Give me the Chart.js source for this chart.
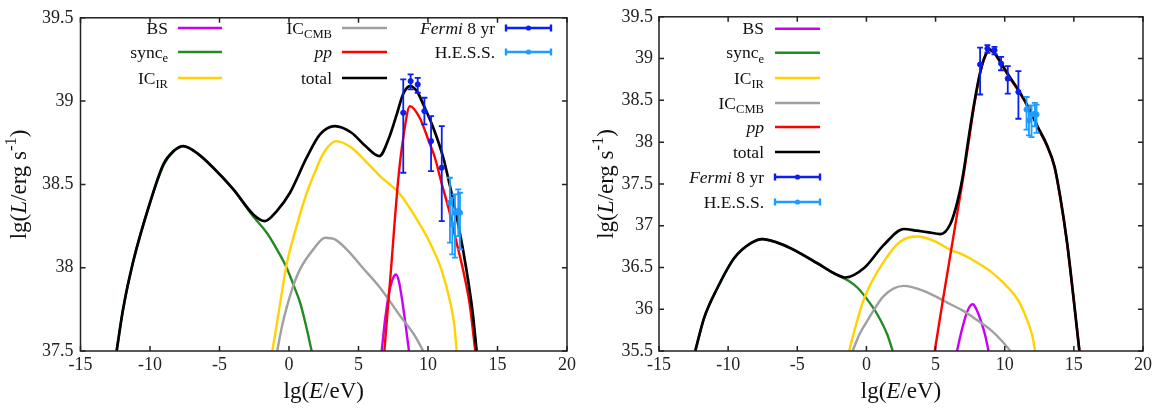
<!DOCTYPE html>
<html>
<head>
<meta charset="utf-8">
<script src="https://cdn.jsdelivr.net/npm/chart.js@4/dist/chart.umd.min.js"></script>
<style>
  body { margin: 0; background: #fff; }
  #wrap { position: relative; width: 1166px; height: 409px; }
  canvas { position: absolute; top: 0; }
</style>
</head>
<body>
<div id="wrap">
  <canvas id="left" width="583" height="409" style="left:0"></canvas>
  <canvas id="right" width="583" height="409" style="left:583px"></canvas>
</div>
<script>
// ---- data: lg(E/eV) and lg(L/erg s^-1) ----

// left panel
const leftBsE = [6.67, 6.9, 7.2, 7.5, 7.7, 7.9, 8.15, 8.4, 8.63];
const leftBsL = [37.5, 37.68, 37.85, 37.94, 37.96, 37.92, 37.8, 37.65, 37.5];
const leftSyncE = [-12.4, -12.0, -11.2, -10.0, -9.0, -8.3, -7.6, -6.5, -5.45, -4.0, -2.6, -1.6, -0.8, -0.17, 0.4, 0.8, 1.2, 1.63];
const leftSyncL = [37.5, 37.72, 38.04, 38.39, 38.62, 38.7, 38.73, 38.68, 38.6, 38.47, 38.31, 38.21, 38.1, 38.0, 37.88, 37.79, 37.66, 37.5];
const leftIrE = [-1.2, -0.9, -0.65, -0.17, 0.55, 1.2, 1.75, 2.5, 3.4, 4.5, 5.5, 6.55, 8.0, 9.2, 10.14, 11.0, 11.58, 11.9, 12.06];
const leftIrL = [37.5, 37.65, 37.78, 38.02, 38.25, 38.43, 38.55, 38.69, 38.76, 38.72, 38.64, 38.55, 38.44, 38.29, 38.15, 37.98, 37.8, 37.65, 37.5];
const leftCmbE = [-0.85, -0.5, -0.17, 0.3, 0.79, 1.75, 2.6, 3.3, 4.15, 5.3, 6.55, 8.0, 9.06, 9.66];
const leftCmbL = [37.5, 37.65, 37.76, 37.89, 37.99, 38.11, 38.18, 38.17, 38.11, 38.0, 37.88, 37.71, 37.59, 37.5];
const leftPpE = [6.86, 7.3, 7.86, 8.22, 8.7, 9.4, 10.1, 10.5, 11.0, 11.5, 12.0, 12.54, 13.0, 13.4];
const leftPpL = [37.5, 37.95, 38.53, 38.78, 38.97, 38.9, 38.75, 38.66, 38.5, 38.35, 38.17, 37.98, 37.78, 37.5];
const leftTotalE = [-12.4, -11.92, -11.2, -10.0, -9.04, -8.3, -7.6, -6.5, -5.45, -4.0, -2.57, -1.73, -0.88, 0.07, 1.27, 2.23, 3.3, 4.5, 5.5, 6.5, 7.2, 7.75, 8.2, 8.7, 9.2, 9.66, 10.38, 11.1, 11.5, 12.2, 12.78, 13.2, 13.5];
const leftTotalL = [37.5, 37.76, 38.04, 38.39, 38.62, 38.7, 38.73, 38.68, 38.6, 38.47, 38.32, 38.28, 38.34, 38.45, 38.66, 38.8, 38.85, 38.81, 38.73, 38.67, 38.78, 38.92, 39.04, 39.09, 39.06, 38.98, 38.84, 38.66, 38.52, 38.25, 37.98, 37.74, 37.5];

// right panel
const rightBsE = [6.55, 6.85, 7.2, 7.5, 7.7, 7.95, 8.3, 8.6, 8.83];
const rightBsL = [35.5, 35.72, 35.93, 36.04, 36.06, 36.0, 35.85, 35.68, 35.5];
const rightSyncE = [-12.38, -11.73, -10.76, -9.57, -8.36, -7.52, -6.5, -5.48, -3.55, -2.35, -1.3, -0.66, 0.0, 0.78, 1.5, 1.9];
const rightSyncL = [35.5, 35.9, 36.26, 36.61, 36.79, 36.84, 36.8, 36.73, 36.55, 36.43, 36.34, 36.26, 36.13, 35.94, 35.7, 35.5];
const rightIrE = [-1.25, -0.86, -0.14, 1.26, 2.46, 3.66, 5.0, 6.07, 7.0, 8.0, 9.0, 10.0, 11.0, 11.6, 12.0, 12.2];
const rightIrL = [35.5, 35.75, 36.14, 36.57, 36.81, 36.87, 36.81, 36.71, 36.65, 36.56, 36.45, 36.3, 36.1, 35.88, 35.68, 35.5];
const rightCmbE = [-1.0, -0.5, 0.06, 1.26, 2.7, 4.14, 6.07, 7.0, 8.0, 9.0, 9.8, 10.4];
const rightCmbL = [35.5, 35.7, 35.86, 36.16, 36.28, 36.22, 36.06, 35.98, 35.87, 35.75, 35.62, 35.5];
const rightPpE = [4.94, 5.5, 6.07, 6.6, 7.0, 7.39, 7.8, 8.23, 8.6, 8.9, 9.3, 9.8, 10.4, 11.12, 11.8, 12.4, 13.04, 13.6, 14.0, 14.5, 15.0, 15.4];
const rightPpL = [35.5, 36.08, 36.65, 37.18, 37.58, 38.0, 38.45, 38.83, 39.03, 39.1, 39.05, 38.92, 38.76, 38.58, 38.38, 38.17, 37.96, 37.7, 37.35, 36.8, 36.1, 35.5];
const rightTotalE = [-12.38, -11.73, -10.76, -9.57, -8.36, -7.52, -6.5, -5.48, -3.55, -2.35, -1.51, -0.19, 1.26, 2.7, 3.66, 4.5, 5.35, 6.07, 6.6, 7.0, 7.39, 7.8, 8.23, 8.6, 8.9, 9.3, 9.8, 10.4, 11.12, 11.8, 12.4, 13.04, 13.6, 14.0, 14.5, 15.0, 15.4];
const rightTotalL = [35.5, 35.9, 36.26, 36.61, 36.79, 36.84, 36.8, 36.73, 36.55, 36.43, 36.38, 36.49, 36.77, 36.96, 36.94, 36.92, 36.9, 37.02, 37.3, 37.62, 38.05, 38.47, 38.84, 39.04, 39.11, 39.06, 38.93, 38.77, 38.59, 38.39, 38.18, 37.97, 37.71, 37.36, 36.81, 36.1, 35.5];

// observations (same in both panels)
const fermiE = [8.22, 8.75, 9.26, 9.74, 10.22, 10.99];
const fermiL = [38.93, 39.12, 39.1, 38.94, 38.76, 38.6];
const fermiLo = [38.57, 39.07, 39.05, 38.86, 38.58, 38.28];
const fermiHi = [39.13, 39.16, 39.14, 39.02, 38.91, 38.85];
const hessE = [11.58, 11.75, 11.94, 12.18, 12.3];
const hessL = [38.39, 38.26, 38.33, 38.34, 38.33];
const hessLo = [38.15, 38.08, 38.06, 38.19, 38.11];
const hessHi = [38.54, 38.42, 38.44, 38.47, 38.45];

const xTicks = [-15, -10, -5, 0, 5, 10, 15, 20];
const leftYRange = [37.5, 39.5];
const rightYRange = [35.5, 39.5];

// ---- styles ----
const FONT = "'Liberation Serif', 'DejaVu Serif', serif";
Chart.defaults.font.family = FONT;
const series = {
  BS:    { color: '#c800f8', segs: [['BS']] },
  sync:  { color: '#228b22', segs: [['sync'], ['e', 'sub']] },
  ICIR:  { color: '#ffd200', segs: [['IC'], ['IR', 'sub']] },
  ICCMB: { color: '#a0a0a0', segs: [['IC'], ['CMB', 'sub']] },
  pp:    { color: '#ff0000', segs: [['pp', 'i']] },
  total: { color: '#000000', segs: [['total']] },
  fermi: { color: '#0c1ff2', segs: [['Fermi', 'i'], [' 8 yr']] },
  hess:  { color: '#1e9cff', segs: [['H.E.S.S.']] },
};

function curve(key, xs, ys, order, width) {
  return {
    label: key, order,
    data: xs.map((x, i) => ({ x, y: ys[i] })),
    showLine: true,
    borderColor: series[key].color,
    borderWidth: width || 2.4,
    pointRadius: 0,
    cubicInterpolationMode: 'monotone',
  };
}

function points(key, xs, ys, lo, hi) {
  return {
    label: key, order: 0,
    data: xs.map((x, i) => ({ x, y: ys[i] })),
    errLo: lo, errHi: hi,
    showLine: false,
    pointRadius: 2.6,
    pointBackgroundColor: series[key].color,
    pointBorderColor: series[key].color,
    borderColor: series[key].color,
  };
}

// text with italics, subscripts and superscripts
function segFont(style, size) {
  const s = (style === 'sub' || style === 'sup') ? size * 0.72 : size;
  return (style === 'i' ? 'italic ' : '') + s + 'px ' + FONT;
}
function richWidth(ctx, segs, size) {
  let w = 0;
  segs.forEach(([t, st]) => { ctx.font = segFont(st, size); w += ctx.measureText(t).width; });
  return w;
}
function drawRich(ctx, segs, x, baseline, size) {
  ctx.textBaseline = 'alphabetic';
  ctx.textAlign = 'left';
  segs.forEach(([t, st]) => {
    ctx.font = segFont(st, size);
    let dy = 0;
    if (st === 'sub') dy = size * 0.24;
    if (st === 'sup') dy = -size * 0.42;
    ctx.fillText(t, x, baseline + dy);
    x += ctx.measureText(t).width;
  });
}

// gnuplot-like frame with inward ticks, axis titles, error bars and key
const gnuFrame = {
  id: 'gnuFrame',
  afterDatasetsDraw(chart, args, opts) {
    const { ctx, chartArea: a, scales: { x, y } } = chart;
    ctx.save();
    // error bars
    chart.data.datasets.forEach(ds => {
      if (!ds.errLo) return;
      ctx.strokeStyle = ds.borderColor;
      ctx.lineWidth = 1.8;
      ds.data.forEach((p, i) => {
        const px = x.getPixelForValue(p.x);
        const y1 = y.getPixelForValue(ds.errLo[i]);
        const y2 = y.getPixelForValue(ds.errHi[i]);
        ctx.beginPath();
        ctx.moveTo(px, y1); ctx.lineTo(px, y2);
        ctx.moveTo(px - 3, y1); ctx.lineTo(px + 3, y1);
        ctx.moveTo(px - 3, y2); ctx.lineTo(px + 3, y2);
        ctx.stroke();
      });
    });
    // frame + ticks
    ctx.strokeStyle = '#222';
    ctx.lineWidth = 1.5;
    ctx.strokeRect(a.left, a.top, a.right - a.left, a.bottom - a.top);
    ctx.beginPath();
    x.ticks.forEach(t => {
      const px = x.getPixelForValue(t.value);
      ctx.moveTo(px, a.bottom); ctx.lineTo(px, a.bottom - 5);
      ctx.moveTo(px, a.top); ctx.lineTo(px, a.top + 5);
    });
    y.ticks.forEach(t => {
      const py = y.getPixelForValue(t.value);
      ctx.moveTo(a.left, py); ctx.lineTo(a.left + 5, py);
      ctx.moveTo(a.right, py); ctx.lineTo(a.right - 5, py);
    });
    ctx.stroke();

    // axis titles
    ctx.fillStyle = '#111';
    const ts = 23;
    const xt = [['lg('], ['E', 'i'], ['/eV)']];
    drawRich(ctx, xt, (a.left + a.right) / 2 - richWidth(ctx, xt, ts) / 2, opts.xTitleY + ts * 0.33, ts);
    const yt = [['lg('], ['L', 'i'], ['/erg s'], ['-1', 'sup'], [')']];
    ctx.save();
    ctx.translate(opts.yTitleX, (a.top + a.bottom) / 2);
    ctx.rotate(-Math.PI / 2);
    drawRich(ctx, yt, -richWidth(ctx, yt, ts) / 2, ts * 0.33, ts);
    ctx.restore();

    // key
    const ls = 17.5;
    opts.key.forEach(k => {
      const s = series[k.id];
      ctx.fillStyle = '#111';
      drawRich(ctx, s.segs, k.tx - richWidth(ctx, s.segs, ls), k.y + ls * 0.33, ls);
      ctx.strokeStyle = s.color;
      ctx.lineWidth = k.id === 'total' ? 2.6 : 2.4;
      ctx.beginPath();
      ctx.moveTo(k.x1, k.y); ctx.lineTo(k.x2, k.y);
      if (k.bars) {
        ctx.moveTo(k.x1, k.y - 3.5); ctx.lineTo(k.x1, k.y + 3.5);
        ctx.moveTo(k.x2, k.y - 3.5); ctx.lineTo(k.x2, k.y + 3.5);
      }
      ctx.stroke();
      if (k.bars) {
        ctx.fillStyle = s.color;
        ctx.beginPath();
        ctx.arc((k.x1 + k.x2) / 2, k.y, 2.6, 0, Math.PI * 2);
        ctx.fill();
      }
    });
    ctx.restore();
  }
};

function makeChart(id, d, yRange, frame, layout) {
  const tickFont = { family: FONT, size: 18 };
  return new Chart(document.getElementById(id), {
    type: 'scatter',
    data: {
      datasets: [
        points('fermi', fermiE, fermiL, fermiLo, fermiHi),
        points('hess', hessE, hessL, hessLo, hessHi),
        curve('total', d.totalE, d.totalL, 1, 2.7),
        curve('pp', d.ppE, d.ppL, 2),
        curve('ICCMB', d.cmbE, d.cmbL, 3),
        curve('ICIR', d.irE, d.irL, 4),
        curve('sync', d.syncE, d.syncL, 5),
        curve('BS', d.bsE, d.bsL, 6),
      ]
    },
    options: {
      responsive: false,
      animation: false,
      layout: { padding: { top: 11, right: layout.right, left: 0, bottom: 0 } },
      plugins: { legend: { display: false }, tooltip: { enabled: false }, gnuFrame: frame },
      scales: {
        x: {
          type: 'linear', min: xTicks[0], max: xTicks[xTicks.length - 1],
          afterBuildTicks: s => { s.ticks = xTicks.map(v => ({ value: v })); },
          afterFit: s => { s.height = 58; },
          grid: { display: false, drawTicks: false },
          border: { display: false },
          ticks: { font: tickFont, color: '#222', padding: 3, maxRotation: 0, callback: v => String(v) },
        },
        y: {
          min: yRange[0], max: yRange[1],
          afterFit: s => { s.width = layout.left; },
          grid: { display: false, drawTicks: false },
          border: { display: false },
          ticks: { font: tickFont, color: '#222', stepSize: 0.5, padding: layout.tickPad,
                   callback: v => String(Math.round(v * 10) / 10) },
        }
      }
    },
    plugins: [gnuFrame]
  });
}

makeChart('left', {
  bsE: leftBsE, bsL: leftBsL, syncE: leftSyncE, syncL: leftSyncL, irE: leftIrE, irL: leftIrL,
  cmbE: leftCmbE, cmbL: leftCmbL, ppE: leftPpE, ppL: leftPpL, totalE: leftTotalE, totalL: leftTotalL,
}, leftYRange, {
  xTitleY: 390, yTitleX: 18,
  key: [
    { id: 'BS', tx: 168, x1: 178, x2: 222, y: 28 },
    { id: 'sync', tx: 168, x1: 178, x2: 222, y: 52 },
    { id: 'ICIR', tx: 168, x1: 178, x2: 222, y: 78 },
    { id: 'ICCMB', tx: 332, x1: 342, x2: 387, y: 28 },
    { id: 'pp', tx: 332, x1: 342, x2: 387, y: 52 },
    { id: 'total', tx: 332, x1: 342, x2: 387, y: 78 },
    { id: 'fermi', tx: 495, x1: 506, x2: 551, y: 28, bars: true },
    { id: 'hess', tx: 495, x1: 506, x2: 551, y: 52, bars: true },
  ]
}, { left: 80.5, right: 16, tickPad: 7 });

makeChart('right', {
  bsE: rightBsE, bsL: rightBsL, syncE: rightSyncE, syncL: rightSyncL, irE: rightIrE, irL: rightIrL,
  cmbE: rightCmbE, cmbL: rightCmbL, ppE: rightPpE, ppL: rightPpL, totalE: rightTotalE, totalL: rightTotalL,
}, rightYRange, {
  xTitleY: 390, yTitleX: 22,
  key: ['BS', 'sync', 'ICIR', 'ICCMB', 'pp', 'total', 'fermi', 'hess'].map((id, i) => ({
    id, tx: 181, x1: 192, x2: 237, y: [28.7, 52.7, 78, 103, 127, 152, 177, 202][i],
    bars: id === 'fermi' || id === 'hess'
  }))
}, { left: 76, right: 23, tickPad: 6 });
</script>
</body>
</html>
